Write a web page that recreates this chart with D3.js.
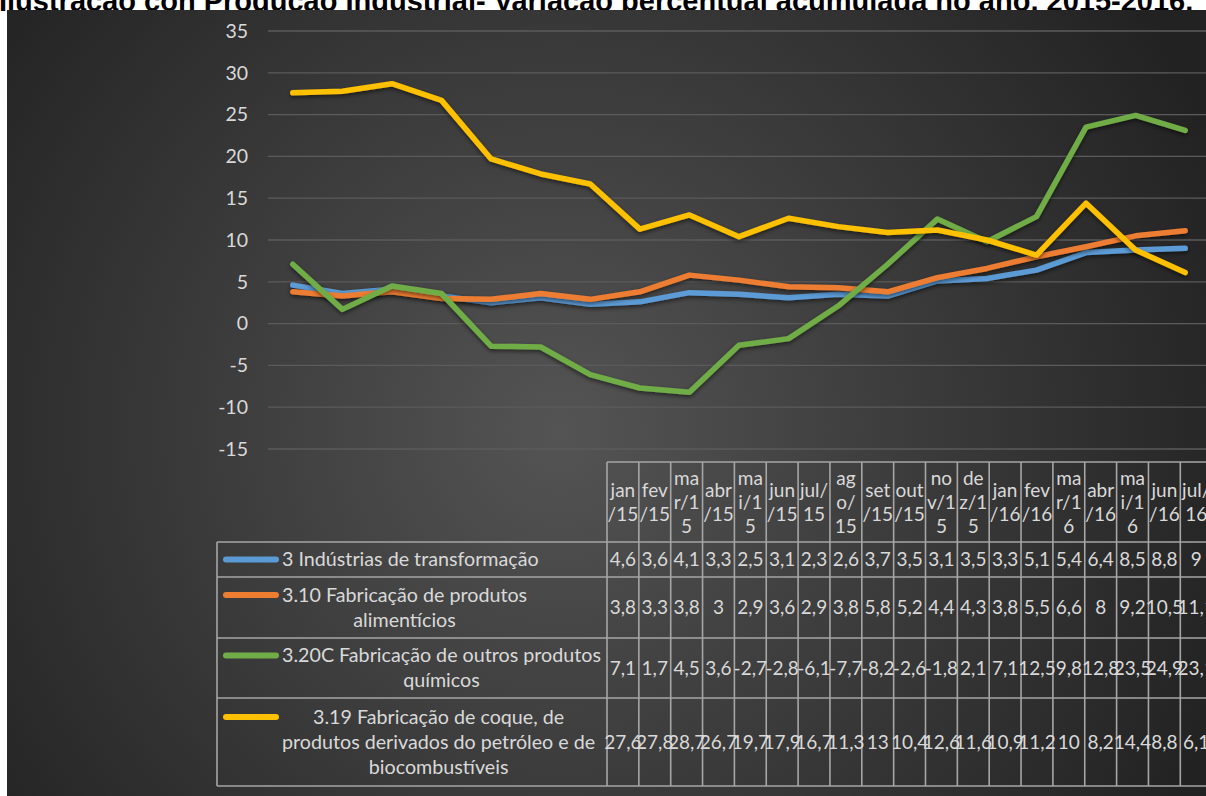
<!DOCTYPE html>
<html><head><meta charset="utf-8">
<script src="https://cdn.jsdelivr.net/npm/d3@7"></script>
<style>body{margin:0;background:#fff}svg{display:block}</style>
</head><body><svg id="c" width="1206" height="796"></svg>
<script>
const titleText = "Ilustração con Produção Industrial- Variação percentual acumulada no ano, 2015-2016.";
const categories = ["jan/15","fev/15","mar/15","abr/15","mai/15","jun/15","jul/15","ago/15","set/15","out/15","nov/15","dez/15","jan/16","fev/16","mar/16","abr/16","mai/16","jun/16","jul/16"];
const headerLines = [["jan","/15"],["fev","/15"],["ma","r/1","5"],["abr","/15"],["ma","i/1","5"],["jun","/15"],["jul/","15"],["ag","o/","15"],["set","/15"],["out","/15"],["no","v/1","5"],["de","z/1","5"],["jan","/16"],["fev","/16"],["ma","r/1","6"],["abr","/16"],["ma","i/1","6"],["jun","/16"],["jul/","16"]];
const seriesLabels = [
  ["3 Indústrias de transformação"],
  ["3.10 Fabricação de produtos","alimentícios"],
  ["3.20C Fabricação de outros produtos","químicos"],
  ["3.19 Fabricação de coque, de","produtos derivados do petróleo e de","biocombustíveis"]
];
const industrias = [4.6,3.6,4.1,3.3,2.5,3.1,2.3,2.6,3.7,3.5,3.1,3.5,3.3,5.1,5.4,6.4,8.5,8.8,9];
const alimenticios = [3.8,3.3,3.8,3,2.9,3.6,2.9,3.8,5.8,5.2,4.4,4.3,3.8,5.5,6.6,8,9.2,10.5,11.1];
const quimicos = [7.1,1.7,4.5,3.6,-2.7,-2.8,-6.1,-7.7,-8.2,-2.6,-1.8,2.1,7.1,12.5,9.8,12.8,23.5,24.9,23.1];
const coque = [27.6,27.8,28.7,26.7,19.7,17.9,16.7,11.3,13,10.4,12.6,11.6,10.9,11.2,10,8.2,14.4,8.8,6.1];
const seriesValues = [industrias, alimenticios, quimicos, coque];
const seriesColors = ["#5B9BD5","#ED7D31","#70AD47","#FFC000"];
const yTicks = [-15,-10,-5,0,5,10,15,20,25,30,35];

const svg = d3.select("#c");
const W = 1206, H = 796;
const font = "Lato, 'Open Sans', sans-serif";
const txtCol = "#d9d9d9";
const gridCol = "#5b5b5b";
const borderCol = "#a6a6a6";

const defs = svg.append("defs");
const rg = defs.append("radialGradient").attr("id","bg").attr("gradientUnits","userSpaceOnUse")
  .attr("cx",560).attr("cy",430).attr("r",720);
rg.append("stop").attr("offset","0").attr("stop-color","#545454");
rg.append("stop").attr("offset","1").attr("stop-color","#222222");
const f = defs.append("filter").attr("id","sh").attr("x","-5%").attr("y","-10%").attr("width","110%").attr("height","130%");
f.append("feDropShadow").attr("dx",0).attr("dy",2).attr("stdDeviation",2).attr("flood-color","#000").attr("flood-opacity",0.55);

// title (partially hidden behind chart area)
svg.append("text").attr("x",-1).attr("y",10.5)
  .attr("font-family","'Liberation Sans', Arial, sans-serif").attr("font-weight","bold")
  .attr("font-size",29).attr("fill","#000").text(titleText);

svg.append("rect").attr("x",7).attr("y",10).attr("width",W-7).attr("height",H-10).attr("fill","url(#bg)");

// scales
const y = d3.scaleLinear().domain([-15,35]).range([449,31]);
const x = d3.scaleBand().domain(categories).range([268,1210]);
const xc = d => x(d) + x.bandwidth()/2;

// grid
svg.append("g").selectAll("line").data(yTicks).join("line")
  .attr("x1",268).attr("x2",W).attr("y1",d=>y(d)).attr("y2",d=>y(d))
  .attr("stroke",gridCol).attr("stroke-width",1.3);

// y axis labels
const yAxis = d3.axisLeft(y).tickValues(yTicks).tickSize(0).tickPadding(0).tickFormat(d => String(d));
const ya = svg.append("g").attr("transform","translate(248,0)").call(yAxis);
ya.select(".domain").remove();
ya.selectAll("text").attr("font-family",font).attr("font-size",19.5).attr("fill",txtCol);

// lines
const line = d3.line().x((d,i)=>xc(categories[i])).y(d=>y(d));
svg.append("g").selectAll("path").data(seriesValues).join("path")
  .attr("d",line).attr("fill","none").attr("stroke",(d,i)=>seriesColors[i])
  .attr("stroke-width",5.5).attr("stroke-linejoin","round").attr("stroke-linecap","round")
  .attr("filter","url(#sh)");

// data table
const colStart = 607, colW = 31.85;
const tx = d3.scaleBand().domain(categories).range([colStart, colStart + colW*categories.length]);
const headTop = 462, rowEdges = [542,577,638,698,786];
const tbl = svg.append("g");
tbl.selectAll("line.v").data(d3.range(categories.length+1)).join("line").attr("class","v")
  .attr("x1",i=>colStart+i*colW).attr("x2",i=>colStart+i*colW)
  .attr("y1",headTop).attr("y2",rowEdges[rowEdges.length-1])
  .attr("stroke",borderCol).attr("stroke-width",1.6);
tbl.append("line").attr("x1",217).attr("x2",217).attr("y1",rowEdges[0]).attr("y2",rowEdges[rowEdges.length-1])
  .attr("stroke",borderCol).attr("stroke-width",1.6);
tbl.append("line").attr("x1",colStart).attr("x2",W).attr("y1",headTop).attr("y2",headTop)
  .attr("stroke",borderCol).attr("stroke-width",1.6);
tbl.selectAll("line.h").data(rowEdges).join("line").attr("class","h")
  .attr("x1",217).attr("x2",W).attr("y1",d=>d).attr("y2",d=>d)
  .attr("stroke",borderCol).attr("stroke-width",1.6);

// header text
const lh = 24;
const hc = (headTop + rowEdges[0]) / 2;
categories.forEach((c,i) => {
  const lines = headerLines[i];
  const t = tbl.append("text").attr("font-family",font).attr("font-size",19).attr("fill",txtCol)
    .attr("text-anchor","middle");
  lines.forEach((l,j) => {
    t.append("tspan").attr("x", tx(c)+tx.bandwidth()/2)
      .attr("y", hc + (j - (lines.length-1)/2)*lh).attr("dy","0.35em").text(l);
  });
});

// values
const fmt = v => String(v).replace(".", ",");
seriesValues.forEach((vals,si) => {
  const cy = (rowEdges[si] + rowEdges[si+1]) / 2;
  tbl.append("g").selectAll("text").data(vals).join("text")
    .attr("x",(d,i)=>tx(categories[i])+tx.bandwidth()/2).attr("y",cy).attr("dy","0.35em")
    .attr("text-anchor","middle").attr("font-family",font).attr("font-size",19).attr("fill",txtCol)
    .text(fmt);
});

// legend cells
const llh = 25;
seriesLabels.forEach((lines,si) => {
  const cy = (rowEdges[si] + rowEdges[si+1]) / 2;
  const firstY = cy - (lines.length-1)/2*llh;
  tbl.append("line").attr("x1",226).attr("x2",276).attr("y1",firstY).attr("y2",firstY)
    .attr("stroke",seriesColors[si]).attr("stroke-width",6).attr("stroke-linecap","round");
  const texts = lines.map((l,j) => tbl.append("text").attr("font-family",font).attr("font-size",19.7)
    .attr("fill",txtCol).attr("text-anchor","middle").attr("y",firstY + j*llh).attr("dy","0.35em").text(l));
  const wMax = d3.max(texts, t => t.node().getComputedTextLength());
  texts.forEach(t => t.attr("x", 282 + wMax/2));
});
</script></body></html>
